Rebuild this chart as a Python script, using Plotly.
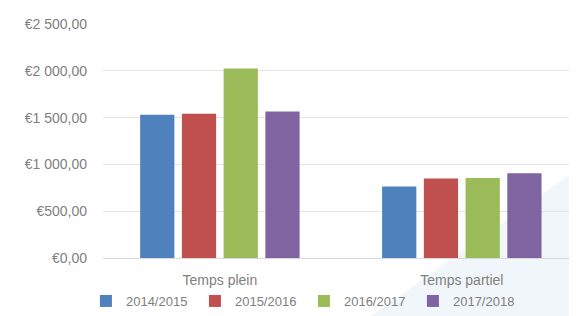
import plotly.graph_objects as go

categories = ["Temps plein", "Temps partiel"]
series_names = ["2014/2015", "2015/2016", "2016/2017", "2017/2018"]
values_2014 = [1530, 765]
values_2015 = [1540, 850]
values_2016 = [2025, 855]
values_2017 = [1565, 905]
colors = ["#4F81BD", "#C0504D", "#9BBB59", "#8064A2"]
y_ticks = [0, 500, 1000, 1500, 2000, 2500]
y_tick_labels = ["€0,00", "€500,00", "€1 000,00", "€1 500,00", "€2 000,00", "€2 500,00"]

series_values = [values_2014, values_2015, values_2016, values_2017]

fig = go.Figure()
for name, vals, col in zip(series_names, series_values, colors):
    fig.add_trace(go.Bar(x=categories, y=vals, name=name, marker=dict(color=col, line=dict(width=0))))

fig.add_shape(type="path", xref="paper", yref="paper",
              path="M 0.55 -0.27 L 1.05 0.45 L 1.05 -0.27 Z",
              fillcolor="rgba(220,232,246,0.4)", line=dict(width=0), layer="below")

fig.update_layout(
    width=569, height=308,
    margin=dict(l=95, r=0, t=16, b=53),
    paper_bgcolor="white", plot_bgcolor="rgba(0,0,0,0)",
    font=dict(family="Liberation Sans, Arial, sans-serif", size=14, color="#808080"),
    barmode="group", bargap=0.31, bargroupgap=0.18,
    showlegend=True,
    legend=dict(orientation="h", x=-0.036, xanchor="left", y=-0.186, yanchor="middle",
                font=dict(size=13, color="#808080"), itemwidth=30, entrywidth=64,
                traceorder="normal", bgcolor="rgba(0,0,0,0)"),
    xaxis=dict(range=[-0.483, 1.476], showgrid=False, showline=True, linecolor="#d9d9d9",
               linewidth=1, ticks="", automargin=False, ticklabelstandoff=9,
               tickfont=dict(size=14, color="#808080")),
    yaxis=dict(range=[0, 2500], tickvals=y_ticks, ticktext=y_tick_labels,
               showgrid=True, gridcolor="#e4e4e4", gridwidth=1, zeroline=False,
               showline=False, ticks="", ticklabelstandoff=15, automargin=False,
               tickfont=dict(size=14, color="#808080")),
)

fig.write_html("out.html")
